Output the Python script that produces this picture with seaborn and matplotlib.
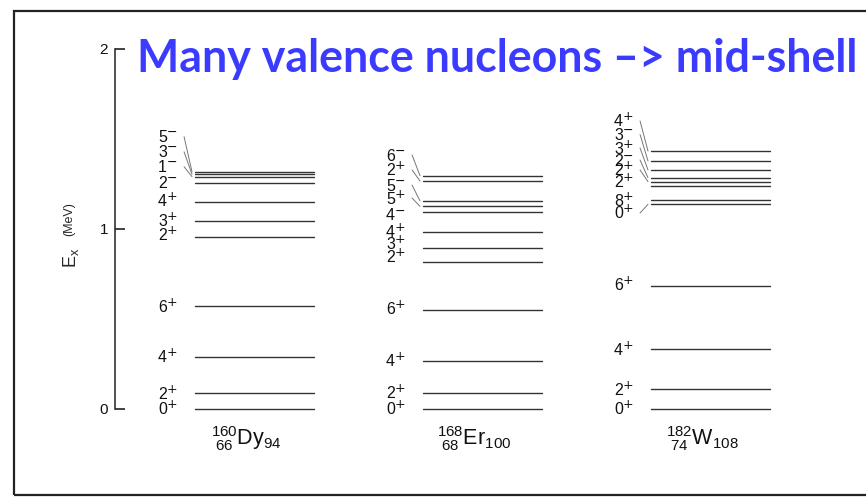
import numpy as np
import pandas as pd
import matplotlib
matplotlib.use("Agg")
import matplotlib.pyplot as plt
from matplotlib.patches import Rectangle
import seaborn as sns

# уровни энергии (МэВ), спины и положения подписей (МэВ)
nuclei = ["Dy", "Er", "W"]
nuc_labels = [r"${}^{160}_{\ 66}$Dy$_{94}$", r"${}^{168}_{\ 68}$Er$_{100}$", r"${}^{182}_{\ 74}$W$_{108}$"]

dy_E = [0, 0.087, 0.29, 0.572, 0.957, 1.046, 1.152, 1.257, 1.291, 1.304, 1.318]
dy_spin = ["0+", "2+", "4+", "6+", "2+", "3+", "4+", "2-", "1-", "3-", "5-"]
dy_lab = [0, 0.087, 0.29, 0.572, 0.967, 1.05, 1.161, 1.256, 1.346, 1.429, 1.513]

er_E = [0, 0.087, 0.268, 0.55, 0.818, 0.896, 0.985, 1.096, 1.126, 1.156, 1.267, 1.296]
er_spin = ["0+", "2+", "4+", "6+", "2+", "3+", "4+", "4-", "5+", "5-", "2+", "6-"]
er_lab = [0, 0.089, 0.269, 0.558, 0.85, 0.917, 0.986, 1.078, 1.172, 1.244, 1.328, 1.411]

w_E = [0, 0.111, 0.333, 0.683, 1.137, 1.161, 1.241, 1.263, 1.285, 1.328, 1.378, 1.433]
w_spin = ["0+", "2+", "4+", "6+", "0+", "8+", "2+", "2+", "2-", "3+", "3-", "4+"]
w_lab = [0, 0.106, 0.328, 0.694, 1.089, 1.161, 1.263, 1.328, 1.383, 1.45, 1.525, 1.6]

all_E = [dy_E, er_E, w_E]
all_spin = [dy_spin, er_spin, w_spin]
all_lab = [dy_lab, er_lab, w_lab]

# таблица для seaborn: каждый уровень - отрезок из двух точек
half = 0.261
rows = []
uid = 0
for i, name in enumerate(nuclei):
    for e in all_E[i]:
        rows.append({"x": i - half, "E": e, "uid": uid, "nuc": name})
        rows.append({"x": i + half, "E": e, "uid": uid, "nuc": name})
        uid += 1
df = pd.DataFrame(rows)

sns.set_theme(style="white")
plt.rcParams["font.family"] = ["Liberation Sans", "DejaVu Sans"]
plt.rcParams["mathtext.fontset"] = "custom"
plt.rcParams["mathtext.rm"] = "Liberation Sans"
plt.rcParams["mathtext.it"] = "Liberation Sans:italic"
plt.rcParams["mathtext.bf"] = "Liberation Sans:bold"
plt.rcParams["mathtext.default"] = "regular"

W, H = 866, 497
fig = plt.figure(figsize=(W / 100, H / 100), dpi=100)
ax = fig.add_axes([0, 0, 1, 1])

# пиксели -> данные (только для раскладки)
px = 228.0
py = 180.0
ax.set_xlim((0 - 254.5) / px, (W - 254.5) / px)
ax.set_ylim((409 - H) / py, 409 / py)

sns.lineplot(data=df, x="x", y="E", units="uid", estimator=None, color="#333333",
             lw=1.0, legend=False, ax=ax)

signs = {"+": "+", "-": "\u2212"}
for i in range(3):
    for e, s, le in zip(all_E[i], all_spin[i], all_lab[i]):
        x0 = i - 0.423
        ax.text(x0, le - 5.5 / py, s[0], fontsize=11.5, ha="left", va="baseline", color="#111")
        ax.text(x0 + 8.5 / px, le + 0.5 / py, signs[s[1]], fontsize=9, ha="left", va="baseline",
                color="#111", family=["DejaVu Sans"])
        if abs(le - e) > 6 / py:
            ax.plot([x0 + 26 / px, i - half - 3 / px], [le, e], color="#777", lw=0.7)
    ax.text(i - 8 / px, (409 - 445) / py, nuc_labels[i], fontsize=15.5, ha="center",
            va="baseline", color="#111")

# ось энергии
for s in ["top", "right", "bottom"]:
    ax.spines[s].set_visible(False)
ax.spines["left"].set_position(("data", (115 - 254.5) / px))
ax.spines["left"].set_bounds(0, 2)
ax.spines["left"].set_color("#222")
ax.spines["left"].set_linewidth(1.1)
ax.set_xticks([])
ax.set_yticks([0, 1, 2])
ax.set_yticklabels(["0", "1", "2"])
ax.tick_params(axis="y", direction="in", length=7.5, width=1.1, pad=5, labelsize=11,
               colors="#111", left=True)
ax.set_xlabel("")
ax.set_ylabel("")
ax.set_facecolor("white")

fig.text(71 / W, 1 - 258 / H, r"E$_{\rm x}$", rotation=90, fontsize=13, ha="center", va="center")
fig.text(69 / W, 1 - 219 / H, "(MeV)", rotation=90, fontsize=9, ha="center", va="center")

fig.text(137 / W, 1 - 72 / H, "Many valence nucleons \u2013> mid-shell", fontsize=32.2,
         family=["Lato", "DejaVu Sans"], fontweight="bold", color="#3b3bff",
         ha="left", va="baseline")

fig.patches.append(Rectangle((13.5 / W, 1 - 495 / H), 1.0, (495 - 10.5) / H,
                             transform=fig.transFigure, fill=False, ec="#222", lw=1.6))

fig.savefig("out.png", dpi=100)
